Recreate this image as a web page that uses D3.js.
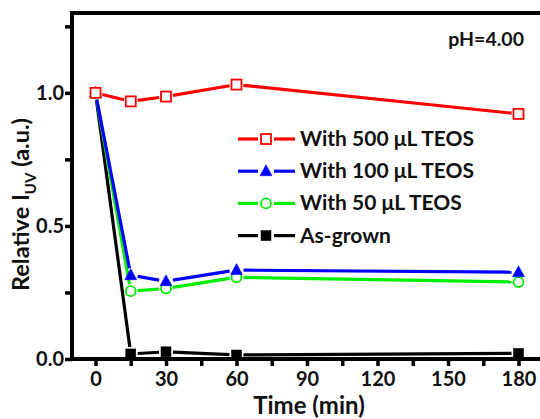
<!DOCTYPE html>
<html><head><meta charset="utf-8">
<script src="https://cdn.jsdelivr.net/npm/d3@7"></script>
<style>body{margin:0;background:#fff}svg{display:block}text{font-family:Lato,"Open Sans",sans-serif;font-weight:bold;fill:#111}</style>
</head><body><svg id="c" width="540" height="419"></svg>
<script>
const times = [0, 15, 30, 60, 180];
const seriesNames = ["With 500 \u03BCL TEOS", "With 100 \u03BCL TEOS", "With 50 \u03BCL TEOS", "As-grown"];
const val500 = [1.0, 0.968, 0.986, 1.031, 0.921];
const val100 = [1.0, 0.315, 0.292, 0.334, 0.326];
const val50 = [1.0, 0.255, 0.265, 0.307, 0.289];
const valGrown = [1.0, 0.019, 0.027, 0.015, 0.021];
const xTicks = [0, 30, 60, 90, 120, 150, 180];
const yTicks = [0.0, 0.5, 1.0];

const svg = d3.select("#c");
const L = 72, T = 13, R = 542, B = 359;
const x = d3.scaleLinear().domain([-10, 190]).range([L, R]);
const y = d3.scaleLinear().domain([0, 1.3]).range([B, T]);

const series = [
  {name: seriesNames[3], vals: valGrown, color: "#000", sym: "square", fill: "#000"},
  {name: seriesNames[2], vals: val50, color: "#00ee00", sym: "circle", fill: "#fff"},
  {name: seriesNames[1], vals: val100, color: "#0000ff", sym: "triangle", fill: "#0000ff"},
  {name: seriesNames[0], vals: val500, color: "#ff0000", sym: "square", fill: "#fff"}
];

function marker(g, sym, cx, cy, color, fill) {
  if (sym === "square") {
    g.append("rect").attr("x", cx - 5).attr("y", cy - 5).attr("width", 10).attr("height", 10)
      .attr("fill", fill).attr("stroke", color).attr("stroke-width", fill === "#fff" ? 1.8 : 0.5);
  } else if (sym === "circle") {
    g.append("circle").attr("cx", cx).attr("cy", cy).attr("r", 5)
      .attr("fill", fill).attr("stroke", color).attr("stroke-width", 1.8);
  } else {
    g.append("path").attr("d", `M${cx},${cy - 6.5}L${cx + 6},${cy + 4.5}L${cx - 6},${cy + 4.5}Z`)
      .attr("fill", fill).attr("stroke", color).attr("stroke-width", 0.5);
  }
}

const plot = svg.append("g");
series.forEach(s => {
  const g = plot.append("g");
  const pts = times.map((t, i) => [x(t), y(s.vals[i])]);
  for (let i = 0; i < pts.length - 1; i++) {
    const [x1, y1] = pts[i], [x2, y2] = pts[i + 1];
    const d = Math.hypot(x2 - x1, y2 - y1), gap = 7;
    if (d <= 2 * gap) continue;
    const ux = (x2 - x1) / d, uy = (y2 - y1) / d;
    g.append("line").attr("x1", x1 + ux * gap).attr("y1", y1 + uy * gap)
      .attr("x2", x2 - ux * gap).attr("y2", y2 - uy * gap)
      .attr("stroke", s.color).attr("stroke-width", 3.2);
  }
  pts.forEach(p => marker(g, s.sym, p[0], p[1], s.color, s.fill));
});

const xAxis = svg.append("g").attr("transform", `translate(0,${B})`)
  .call(d3.axisBottom(x).tickValues(d3.range(0, 181, 15)).tickSize(7).tickFormat(d => xTicks.includes(d) ? d : ""));
const yAxis = svg.append("g").attr("transform", `translate(${L},0)`)
  .call(d3.axisLeft(y).tickValues([0, 0.25, 0.5, 0.75, 1.0, 1.25]).tickSize(7).tickFormat(d => yTicks.includes(d) ? d.toFixed(1) : ""));
[xAxis, yAxis].forEach(a => {
  a.select(".domain").remove();
  a.selectAll(".tick line").attr("stroke-width", 3.5).attr("stroke", "#000");
  a.selectAll(".tick text").style("font-size", "20px").style("font-family", "Lato,'Open Sans',sans-serif").style("font-weight", "bold").style("fill", "#111");
});
xAxis.selectAll(".tick text").attr("y", 9).attr("dy", "0.9em");
yAxis.selectAll(".tick text").attr("x", -8);

// frame as filled bars: top, left, bottom
const fw = 4;
const frame = svg.append("g").attr("fill", "#000");
frame.append("rect").attr("x", L - fw / 2).attr("y", T - fw / 2).attr("width", R - L + fw).attr("height", fw);
frame.append("rect").attr("x", L - fw / 2).attr("y", T - fw / 2).attr("width", fw).attr("height", B - T + fw);
frame.append("rect").attr("x", L - fw / 2).attr("y", B - fw / 2).attr("width", R - L + fw).attr("height", fw);

// axis titles
svg.append("text").attr("x", 309).attr("y", 414).attr("text-anchor", "middle")
  .style("font-size", "24px").text("Time (min)");
const yl = svg.append("text").attr("transform", "translate(29,291) rotate(-90)").attr("text-anchor", "start").style("font-size", "23.5px");
yl.append("tspan").text("Relative I");
yl.append("tspan").attr("dy", 7).style("font-size", "15px").text("UV");
yl.append("tspan").attr("dy", -7).text(" (a.u.)");

svg.append("text").attr("x", 524).attr("y", 46).attr("text-anchor", "end").style("font-size", "19.5px").text("pH=4.00");

// legend
const legendOrder = [series[3], series[2], series[1], series[0]];
legendOrder.forEach((s, i) => {
  const ly = 139 + i * 32.2;
  const g = svg.append("g");
  g.append("line").attr("x1", 238).attr("x2", 258).attr("y1", ly).attr("y2", ly).attr("stroke", s.color).attr("stroke-width", 3.2);
  g.append("line").attr("x1", 274).attr("x2", 295).attr("y1", ly).attr("y2", ly).attr("stroke", s.color).attr("stroke-width", 3.2);
  marker(g, s.sym, 266, ly, s.color, s.fill);
  g.append("text").attr("x", 300).attr("y", ly + 7).style("font-size", "21px").text(s.name);
});
</script></body></html>
